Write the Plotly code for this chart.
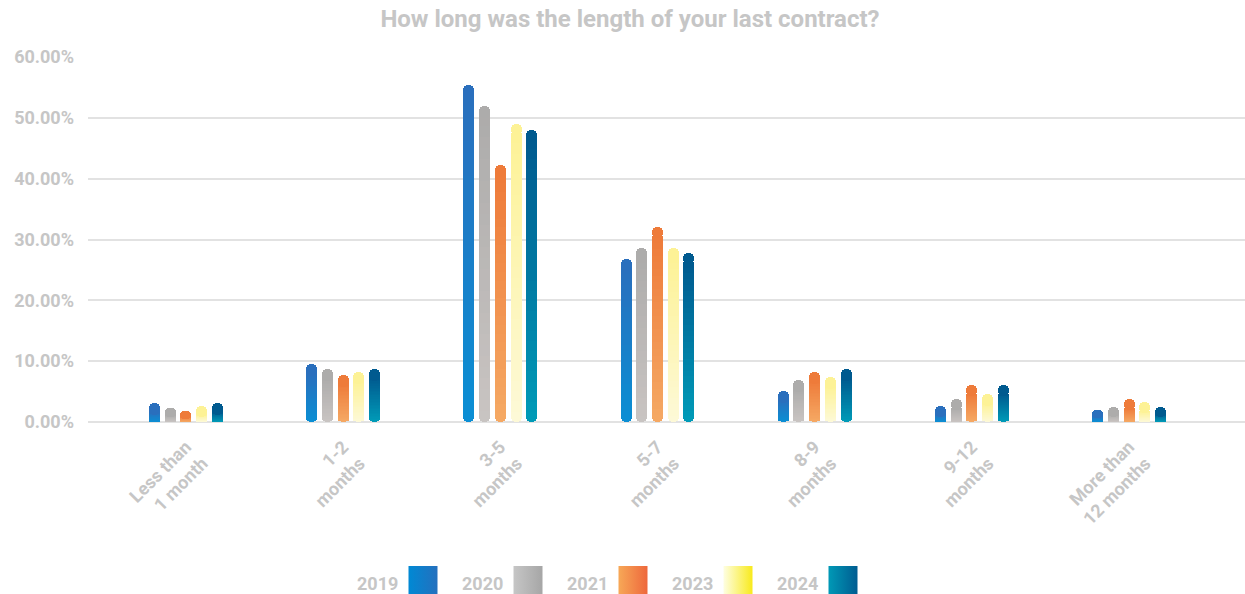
import plotly.graph_objects as go

categories = ["Less than<br>1 month", "1-2<br>months", "3-5<br>months", "5-7<br>months",
              "8-9<br>months", "9-12<br>months", "More than<br>12 months"]
years = ["2019", "2020", "2021", "2023", "2024"]
v2019 = [3.1, 9.5, 55.4, 26.8, 5.1, 2.6, 2.0]
v2020 = [2.3, 8.7, 51.9, 28.6, 6.9, 3.8, 2.5]
v2021 = [1.8, 7.7, 42.2, 32.1, 8.2, 6.1, 3.8]
v2023 = [2.6, 8.2, 49.0, 28.6, 7.4, 4.6, 3.3]
v2024 = [3.1, 8.7, 48.0, 27.8, 8.7, 6.1, 2.5]
values = [v2019, v2020, v2021, v2023, v2024]
y_ticks = [0, 10, 20, 30, 40, 50, 60]
y_ticktext = ["%.2f%%" % t for t in y_ticks]

# style: (bottom colour, top colour) of bars, (left, right) of legend swatches
bar_colors = [("#0a8fd4", "#2a6fbd"), ("#c9c4c2", "#adacab"), ("#f5a964", "#ee7b3a"),
              ("#fdf9d8", "#fdf296"), ("#009bb8", "#005a8f")]
legend_colors = [("#0089d4", "#2470be"), ("#c6c6c6", "#a6a6a6"), ("#f7a857", "#ee683c"),
                 ("#fefee2", "#f8ea1c"), ("#0099b6", "#005c91")]

GREY = "#c6c6c6"
FONT = "Roboto"
K = 28
BAR_W = 0.07
STEP = 0.1


def hex2rgb(h):
    h = h.lstrip("#")
    return tuple(int(h[i:i + 2], 16) for i in (0, 2, 4))


def mix(c1, c2, t):
    a, b = hex2rgb(c1), hex2rgb(c2)
    return "rgb(%d,%d,%d)" % tuple(round(a[i] + (b[i] - a[i]) * t) for i in range(3))


fig = go.Figure()
for yi, (yr, vals) in enumerate(zip(years, values)):
    bot, top = bar_colors[yi]
    offset = (yi - 2) * STEP - BAR_W / 2
    cap = [min(1.5, v / 2) for v in vals]
    body = [v - c for v, c in zip(vals, cap)]
    overlap = [min(0.4, b / 2) for b in body]
    for j in range(K):
        f = 1 - j / K
        fig.add_trace(go.Bar(
            x=categories, y=[-b * f for b in body], base=body,
            offset=offset, width=BAR_W,
            marker=dict(color=mix(bot, top, (j + 0.5) / K), line=dict(width=0),
                        cornerradius="50%" if j == 0 else 0),
            hoverinfo="skip", showlegend=False, xaxis="x", yaxis="y"))
    fig.add_trace(go.Bar(
        x=categories, y=[c + o for c, o in zip(cap, overlap)],
        base=[b - o for b, o in zip(body, overlap)], offset=offset, width=BAR_W,
        marker=dict(color=top, line=dict(width=0), cornerradius="50%"),
        hoverinfo="skip", showlegend=False, xaxis="x", yaxis="y"))

# custom legend: label left of swatch
for yi, yr in enumerate(years):
    left, right = legend_colors[yi]
    fig.add_trace(go.Scatter(
        x=[yi], y=[0.5], mode="markers", xaxis="x2", yaxis="y2",
        marker=dict(symbol="square", size=29, color=left,
                    gradient=dict(type="horizontal", color=right), line=dict(width=0)),
        cliponaxis=False, hoverinfo="skip", showlegend=False))
    fig.add_annotation(x=yi, y=0.5, xref="x2", yref="y2", text=yr, showarrow=False,
                       xanchor="right", yanchor="middle", xshift=-23, yshift=-3,
                       font=dict(family=FONT, size=18, color=GREY, weight="bold"))

PLOT_H = 594 - 57
fig.update_layout(
    width=1245, height=594,
    margin=dict(l=88, r=0, t=57, b=0, autoexpand=False),
    paper_bgcolor="white", plot_bgcolor="white",
    barmode="overlay", bargap=0,
    showlegend=False,
    title=dict(text="How long was the length of your last contract?",
               x=0.506, xanchor="center", xref="container",
               y=1 - 19 / 594, yanchor="middle", yref="container",
               font=dict(family=FONT, size=24, color=GREY, weight="bold")),
    xaxis=dict(type="category", range=[-0.623, 6.738], anchor="y",
               showgrid=False, showline=False, zeroline=False, ticks="",
               tickangle=-45, ticklabelstandoff=10,
               tickfont=dict(family=FONT, size=18, color=GREY, weight="bold")),
    yaxis=dict(domain=[(594 - 422) / PLOT_H, 1], range=[0, 60], tickvals=y_ticks,
               ticktext=y_ticktext, showgrid=True, gridcolor="#e2e2e2",
               gridwidth=1.5, zeroline=True, zerolinecolor="#e2e2e2", zerolinewidth=1.5,
               showline=False, ticks="", ticklabelstandoff=13,
               tickfont=dict(family=FONT, size=18, color=GREY, weight="bold")),
    xaxis2=dict(domain=[0, 1], range=[-335 / 105, (1157 - 335) / 105], anchor="y2",
                visible=False, fixedrange=True),
    yaxis2=dict(domain=[0, 27 / PLOT_H], range=[0, 1], anchor="x2",
                visible=False, fixedrange=True),
)

fig.write_html("out.html", config={"displayModeBar": False},
               post_script="document.body.style.margin='0';")
